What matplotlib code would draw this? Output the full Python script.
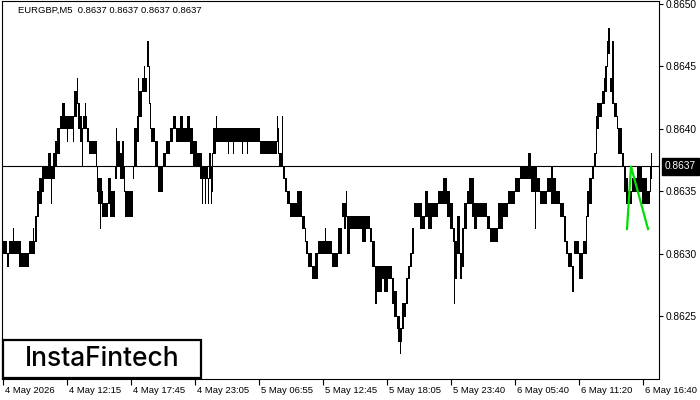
import numpy as np
import matplotlib
matplotlib.use("Agg")
import matplotlib.pyplot as plt
from matplotlib.patches import Rectangle
from matplotlib import transforms

plt.rcParams["font.family"] = ["Liberation Sans", "DejaVu Sans"]

# EURGBP M5, one pixel column per bar; runs of bars with the same low/high
# prices are given as x10^4 integers
run_len = [4, 2, 4, 1, 5, 2, 8, 4, 1, 1, 2, 2, 3, 2, 4, 3, 1, 1, 2, 2,
           3, 2, 3, 2, 1, 5, 1, 3, 1, 2, 2, 1, 2, 1, 1, 2, 7, 1, 1, 2,
           1, 1, 1, 5, 2, 1, 4, 1, 1, 3, 2, 2, 1, 8, 1, 3, 1, 1, 3, 2,
           1, 2, 2, 1, 1, 4, 3, 5, 3, 4, 3, 3, 4, 3, 4, 3, 3, 4, 3, 2,
           1, 2, 1, 2, 1, 2, 1, 1, 3, 1, 11, 1, 4, 1, 8, 1, 4, 1, 12, 17,
           1, 1, 3, 1, 2, 2, 3, 7, 5, 3, 1, 2, 4, 3, 3, 7, 1, 6, 6, 4,
           2, 2, 1, 3, 12, 4, 4, 2, 3, 2, 5, 2, 4, 4, 2, 3, 1, 2, 1, 1,
           2, 2, 2, 2, 2, 2, 6, 2, 3, 3, 4, 6, 5, 4, 3, 3, 1, 1, 2, 3,
           2, 2, 3, 2, 3, 2, 3, 10, 3, 8, 5, 5, 7, 5, 8, 3, 4, 1, 1, 3,
           7, 4, 2, 3, 4, 4, 2, 2, 4, 2, 5, 4, 3, 1, 2, 3, 2, 2, 1, 2,
           3, 2, 1, 2, 1, 2, 2, 2, 3, 1, 4, 2, 2, 2, 4, 5, 5, 5, 3, 1,
           1, 1]

run_low = [8630, 8629, 8630, 8630, 8630, 8629, 8629, 8630, 8630, 8630,
           8631, 8633, 8634, 8635, 8636, 8636, 8634, 8636, 8636, 8637,
           8638, 8640, 8640, 8640, 8639, 8640, 8639, 8641, 8642, 8640,
           8639, 8637, 8640, 8640, 8640, 8639, 8638, 8637, 8635, 8634,
           8632, 8634, 8633, 8633, 8634, 8633, 8633, 8636, 8636, 8637,
           8636, 8636, 8635, 8633, 8636, 8637, 8639, 8639, 8641, 8643,
           8643, 8643, 8645, 8642, 8640, 8639, 8637, 8635, 8637, 8638,
           8639, 8640, 8639, 8639, 8639, 8639, 8638, 8637, 8637, 8636,
           8634, 8636, 8634, 8636, 8634, 8636, 8634, 8635, 8638, 8639,
           8639, 8638, 8639, 8638, 8639, 8638, 8639, 8638, 8639, 8638,
           8639, 8638, 8637, 8637, 8636, 8635, 8634, 8633, 8633, 8632,
           8631, 8630, 8629, 8628, 8628, 8630, 8630, 8630, 8629, 8630,
           8633, 8632, 8633, 8630, 8632, 8631, 8632, 8631, 8629, 8626,
           8627, 8628, 8627, 8628, 8626, 8625, 8624, 8623, 8622, 8623,
           8624, 8625, 8626, 8628, 8629, 8630, 8633, 8632, 8632, 8633,
           8632, 8633, 8634, 8634, 8633, 8632, 8631, 8626, 8628, 8630,
           8628, 8629, 8632, 8634, 8634, 8633, 8632, 8633, 8632, 8631,
           8632, 8633, 8634, 8635, 8636, 8636, 8635, 8632, 8635, 8635,
           8634, 8635, 8634, 8634, 8634, 8633, 8631, 8630, 8629, 8627,
           8630, 8628, 8630, 8630, 8633, 8634, 8636, 8637, 8638, 8640,
           8641, 8642, 8642, 8643, 8645, 8646, 8643, 8642, 8641, 8640,
           8638, 8637, 8635, 8634, 8634, 8635, 8635, 8634, 8634, 8635,
           8636, 8637]

run_high = [8631, 8630, 8631, 8632, 8631, 8631, 8630, 8631, 8632, 8631,
            8633, 8635, 8636, 8637, 8637, 8638, 8637, 8637, 8638, 8639,
            8640, 8641, 8642, 8641, 8641, 8641, 8641, 8643, 8644, 8642,
            8641, 8640, 8641, 8642, 8641, 8640, 8639, 8639, 8637, 8636,
            8636, 8636, 8635, 8634, 8636, 8636, 8635, 8637, 8640, 8639,
            8638, 8639, 8637, 8635, 8637, 8640, 8641, 8644, 8643, 8644,
            8645, 8644, 8647, 8645, 8642, 8640, 8639, 8637, 8638, 8639,
            8640, 8641, 8640, 8641, 8640, 8641, 8640, 8639, 8638, 8638,
            8637, 8637, 8637, 8637, 8636, 8638, 8637, 8638, 8640, 8641,
            8640, 8640, 8640, 8640, 8640, 8640, 8640, 8640, 8640, 8639,
            8641, 8640, 8638, 8641, 8637, 8636, 8635, 8634, 8635, 8633,
            8632, 8631, 8630, 8629, 8630, 8631, 8632, 8631, 8630, 8632,
            8634, 8634, 8635, 8633, 8633, 8633, 8633, 8632, 8631, 8629,
            8629, 8629, 8629, 8629, 8628, 8627, 8625, 8625, 8624, 8624,
            8626, 8626, 8628, 8629, 8630, 8632, 8634, 8634, 8633, 8635,
            8634, 8634, 8635, 8636, 8635, 8634, 8632, 8632, 8631, 8633,
            8630, 8632, 8634, 8635, 8636, 8636, 8634, 8634, 8633, 8632,
            8634, 8634, 8635, 8636, 8637, 8638, 8637, 8637, 8637, 8636,
            8635, 8636, 8637, 8636, 8635, 8634, 8633, 8631, 8630, 8629,
            8631, 8630, 8631, 8633, 8635, 8636, 8637, 8638, 8641, 8642,
            8642, 8643, 8644, 8645, 8647, 8648, 8644, 8647, 8642, 8641,
            8640, 8638, 8637, 8636, 8635, 8636, 8637, 8636, 8635, 8637,
            8638, 8637]

last_price = 0.8637
time_labels = ["4 May 2026", "4 May 12:15", "4 May 17:45", "4 May 23:05",
               "5 May 06:55", "5 May 12:45", "5 May 18:05", "5 May 23:40",
               "6 May 05:40", "6 May 11:20", "6 May 16:40"]
price_ticks = [0.8625, 0.8630, 0.8635, 0.8640, 0.8645, 0.8650]

# pattern drawn in green (bar column, price)
pattern_x = [627, 631, 648]
pattern_y = [0.8632, 0.8637, 0.8632]

lows = np.repeat(run_low, run_len) / 10000
highs = np.repeat(run_high, run_len) / 10000
first_col = 3
cols = first_col + np.arange(len(lows))

W, H = 700, 400
fig = plt.figure(figsize=(7, 4), dpi=100)
fig.patch.set_facecolor("white")
ax_l, ax_r, ax_t, ax_b = 2, 659, 1, 379
ax = fig.add_axes([ax_l / W, 1 - ax_b / H, (ax_r - ax_l) / W, (ax_b - ax_t) / H])

px = 0.0001 / 12.5  # price per pixel
ax.set_xlim(ax_l, ax_r)
ax.set_ylim(0.8650 - (ax_b - 4) * px, 0.8650 + (4 - ax_t) * px)

ax.bar(cols + 0.5, highs - lows + px, bottom=lows - px / 2, width=1.0,
       color="black", linewidth=0, antialiased=False)
ax.axhline(last_price, color="black", lw=0.8)
ax.plot(pattern_x, pattern_y, color="#00e000", lw=1.6, zorder=5)

for s in ax.spines.values():
    s.set_linewidth(0.8)

# price axis
ax.yaxis.tick_right()
ax.set_yticks(price_ticks)
ax.set_yticklabels([f"{p:.4f}" for p in price_ticks])
ax.tick_params(axis="y", length=3, width=0.8, pad=2, labelsize=7.3)

# time axis
ticks = [first_col + 64 * i for i in range(len(time_labels))]
ax.set_xticks(ticks)
ax.set_xticklabels(time_labels)
ax.tick_params(axis="x", length=4, width=0.8, pad=1, labelsize=6.8)
off = transforms.ScaledTranslation(2 / 100, 0, fig.dpi_scale_trans)
for lab in ax.get_xticklabels():
    lab.set_ha("left")
    lab.set_transform(lab.get_transform() + off)

# current price box
ax.annotate(f"{last_price:.4f}", xy=(1, last_price),
            xycoords=("axes fraction", "data"), xytext=(6, 0),
            textcoords="offset pixels", va="center", ha="left",
            color="white", fontsize=7.3,
            bbox=dict(boxstyle="square,pad=0.3", fc="black", ec="black"),
            annotation_clip=False)

fig.text(18 / W, 1 - 10 / H, "EURGBP,M5  0.8637 0.8637 0.8637 0.8637",
         fontsize=6.8, va="center", ha="left", color="black")

# logo
fig.add_artist(Rectangle((3 / W, 1 - 378 / H), 198 / W, 38 / H,
                         transform=fig.transFigure, fc="white", ec="black",
                         lw=1.6, zorder=10))
fig.text(102 / W, 1 - 359 / H, "InstaFintech", fontsize=19, family="Inter",
         weight="medium", ha="center", va="center", color="black",
         zorder=11)

fig.savefig("out.png", dpi=100)
